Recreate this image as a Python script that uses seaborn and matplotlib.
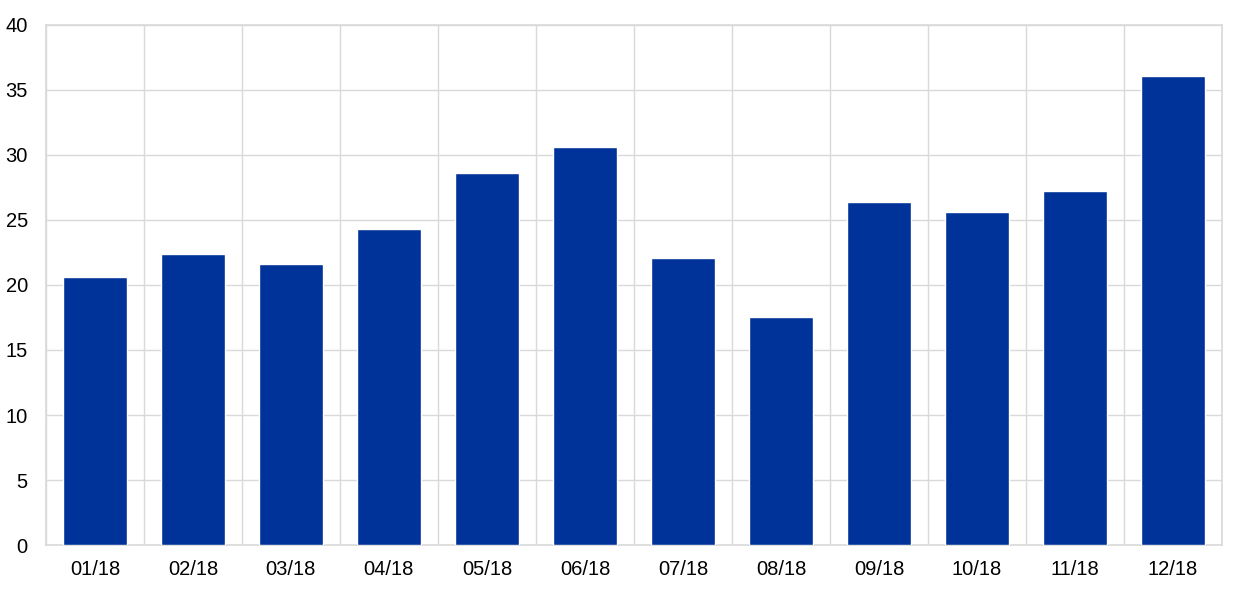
import numpy as np
import matplotlib.pyplot as plt
import seaborn as sns
from matplotlib.ticker import FixedLocator

months = ['01/18', '02/18', '03/18', '04/18', '05/18', '06/18',
          '07/18', '08/18', '09/18', '10/18', '11/18', '12/18']
values = [20.6, 22.4, 21.6, 24.3, 28.6, 30.6, 22.1, 17.5, 26.4, 25.6, 27.2, 36.1]


def main():
    sns.set_theme(style="white")
    plt.rcParams['font.family'] = ['Liberation Sans', 'DejaVu Sans']

    fig = plt.figure(figsize=(12.4, 5.91), dpi=100)
    ax = fig.add_axes([0.037, 0.0778, 0.9485, 0.88])

    sns.barplot(x=months, y=values, color='#003399', width=0.66,
                saturation=1, ax=ax, zorder=3)

    ax.set_ylim(0, 40)
    ax.set_xlim(-0.5, len(months) - 0.5)
    ax.set_yticks(range(0, 41, 5))

    # vertical lines between categories
    ax.xaxis.set_minor_locator(FixedLocator(np.arange(-0.5, len(months), 1)))
    ax.grid(axis='y', which='major', color='#d9d9d9', linewidth=1, zorder=0)
    ax.grid(axis='x', which='minor', color='#d9d9d9', linewidth=1, zorder=0)
    ax.grid(axis='x', which='major', visible=False)

    for s in ax.spines.values():
        s.set_color('#d9d9d9')
        s.set_linewidth(1.2)

    ax.tick_params(axis='both', which='both', length=0, labelsize=14.5,
                   colors='black')
    ax.tick_params(axis='x', pad=11)
    ax.tick_params(axis='y', pad=13)
    ax.set_xlabel('')
    ax.set_ylabel('')

    fig.savefig('out.png', dpi=100)


if __name__ == '__main__':
    main()
